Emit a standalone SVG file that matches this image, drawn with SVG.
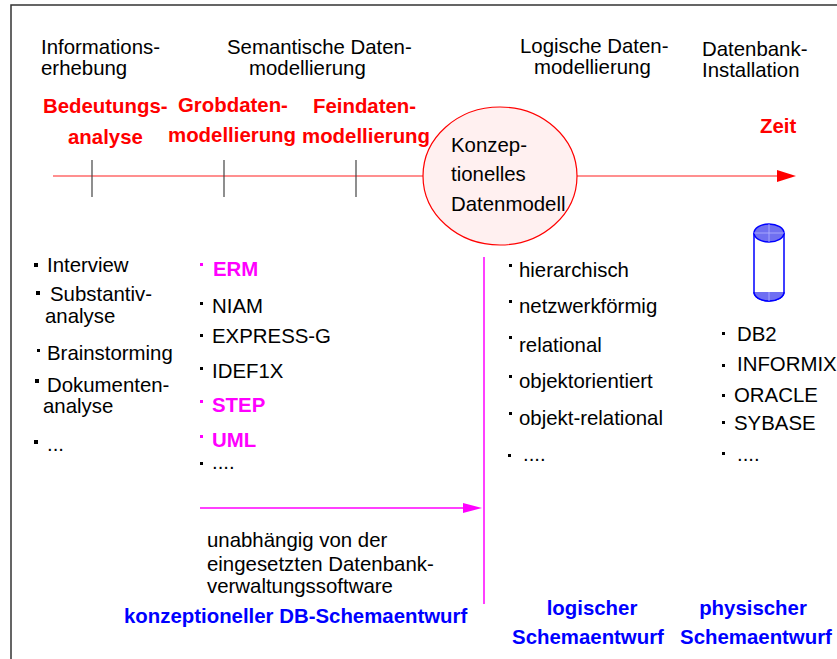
<svg xmlns="http://www.w3.org/2000/svg" width="837" height="659" viewBox="0 0 837 659">
<style>
text{font-family:"Liberation Sans",Arial,sans-serif;font-size:20.4px;fill:#000}
.r{fill:#ff0000;font-weight:bold}
.m{fill:#ff00ff;font-weight:bold}
.b{fill:#0000ff;font-weight:bold}
.c{text-anchor:middle}
.bl{fill:#000}
.tick{stroke:#444;stroke-width:1.2}
</style>
<rect width="837" height="659" fill="#fff"/>
<path d="M11 659 V5 H837" fill="none" stroke="#333" stroke-width="1.5"/>

<g id="connectors">
  <line x1="53" y1="176" x2="780" y2="176" stroke="#ff2020" stroke-width="1.2"/>
  <polygon points="777,170 796,176 777,182" fill="#ff0000"/>
  <line class="tick" x1="92" y1="160" x2="92" y2="197"/>
  <line class="tick" x1="224" y1="160" x2="224" y2="197"/>
  <line class="tick" x1="356" y1="160" x2="356" y2="197"/>
  <line x1="200" y1="508" x2="466" y2="508" stroke="#ff00ff" stroke-width="1.5"/>
  <polygon points="463,503 482,508 463,513" fill="#ff00ff"/>
  <line x1="484" y1="257" x2="484" y2="604" stroke="#ff00ff" stroke-width="1.5"/>
</g>

<g id="headers">
  <text x="41" y="54">Informations-</text>
  <text x="41" y="75">erhebung</text>
  <text x="227" y="54">Semantische Daten-</text>
  <text x="249" y="75">modellierung</text>
  <text x="520" y="53">Logische Daten-</text>
  <text x="534" y="74">modellierung</text>
  <text x="702" y="56">Datenbank-</text>
  <text x="702" y="77">Installation</text>
</g>

<g id="phases">
  <text class="r" x="43" y="113">Bedeutungs-</text>
  <text class="r" x="68" y="144">analyse</text>
  <text class="r" x="178" y="112">Grobdaten-</text>
  <text class="r" x="168" y="142">modellierung</text>
  <text class="r" x="313" y="113">Feindaten-</text>
  <text class="r" x="302" y="143">modellierung</text>
  <text class="r" x="760" y="133">Zeit</text>
</g>

<g id="konzeptionelles-datenmodell">
  <ellipse cx="500" cy="176" rx="77" ry="69" fill="#fff0f0" stroke="#ff0000" stroke-width="1.2"/>
  <text x="451" y="152">Konzep-</text>
  <text x="451" y="181">tionelles</text>
  <text x="451" y="211">Datenmodell</text>
</g>

<g id="list-informationserhebung">
  <rect class="bl" x="34" y="263" width="4" height="4"/>
  <text x="47" y="272">Interview</text>
  <rect class="bl" x="36" y="291" width="4" height="4"/>
  <text x="50" y="301">Substantiv-</text>
  <text x="45" y="323">analyse</text>
  <rect class="bl" x="37" y="349" width="3" height="3"/>
  <text x="47" y="360">Brainstorming</text>
  <rect class="bl" x="35" y="379" width="4" height="4"/>
  <text x="47" y="392">Dokumenten-</text>
  <text x="43" y="413">analyse</text>
  <rect class="bl" x="34" y="440" width="4" height="4"/>
  <text x="47" y="451">...</text>
</g>

<g id="list-semantisch">
  <rect fill="#ff00ff" x="200" y="263" width="3" height="3"/>
  <text class="m" x="213" y="276">ERM</text>
  <rect class="bl" x="200" y="302" width="3" height="3"/>
  <text x="212" y="313">NIAM</text>
  <rect class="bl" x="200" y="334" width="3" height="3"/>
  <text x="212" y="343">EXPRESS-G</text>
  <rect class="bl" x="200" y="367" width="3" height="3"/>
  <text x="212" y="378">IDEF1X</text>
  <rect fill="#ff00ff" x="200" y="400" width="3" height="3"/>
  <text class="m" x="212" y="412">STEP</text>
  <rect fill="#ff00ff" x="200" y="435" width="3" height="3"/>
  <text class="m" x="212" y="447">UML</text>
  <rect class="bl" x="200" y="462" width="3" height="3"/>
  <text x="212" y="469">....</text>
</g>

<g id="list-logisch">
  <rect class="bl" x="509" y="264" width="3" height="3"/>
  <text x="519" y="277">hierarchisch</text>
  <rect class="bl" x="509" y="300" width="3" height="3"/>
  <text x="519" y="313">netzwerkförmig</text>
  <rect class="bl" x="509" y="336" width="3" height="3"/>
  <text x="519" y="352">relational</text>
  <rect class="bl" x="509" y="375" width="3" height="3"/>
  <text x="519" y="388">objektorientiert</text>
  <rect class="bl" x="509" y="412" width="3" height="3"/>
  <text x="519" y="425">objekt-relational</text>
  <rect class="bl" x="508" y="454" width="3" height="3"/>
  <text x="523" y="461">....</text>
</g>

<g id="datenbank">
  <path d="M754 233 V292 A15 9 0 0 0 784 292 V233" fill="#fff" stroke="#0000ff" stroke-width="1.5"/>
  <path d="M754 292 A15 9 0 0 0 784 292 Z" fill="#6e6ef2"/>
  <path d="M754 292 A15 9 0 0 0 784 292" fill="none" stroke="#0000ff" stroke-width="1.5"/>
  <ellipse cx="769" cy="233" rx="15" ry="9" fill="#7070f0" stroke="#0000ff" stroke-width="1.5"/>
  <path d="M769 224 V242 M754 233 H784 M769 292 V301" stroke="#b4b4ff" stroke-width="0.8"/>
</g>

<g id="list-physisch">
  <rect class="bl" x="722" y="332" width="3" height="3"/>
  <text x="737" y="341">DB2</text>
  <rect class="bl" x="722" y="364" width="3" height="3"/>
  <text x="737" y="371">INFORMIX</text>
  <rect class="bl" x="722" y="394" width="3" height="3"/>
  <text x="734" y="402">ORACLE</text>
  <rect class="bl" x="722" y="421" width="3" height="3"/>
  <text x="734" y="430">SYBASE</text>
  <rect class="bl" x="722" y="452" width="3" height="3"/>
  <text x="737" y="461">....</text>
</g>

<g id="note">
  <text x="207" y="547">unabhängig von der</text>
  <text x="207" y="571">eingesetzten Datenbank-</text>
  <text x="207" y="593">verwaltungssoftware</text>
</g>

<g id="schemaentwurf">
  <text class="b" x="124" y="623">konzeptioneller DB-Schemaentwurf</text>
  <text class="b c" x="592" y="615">logischer</text>
  <text class="b c" x="588" y="644">Schemaentwurf</text>
  <text class="b c" x="753" y="615">physischer</text>
  <text class="b c" x="756" y="644">Schemaentwurf</text>
</g>
</svg>
